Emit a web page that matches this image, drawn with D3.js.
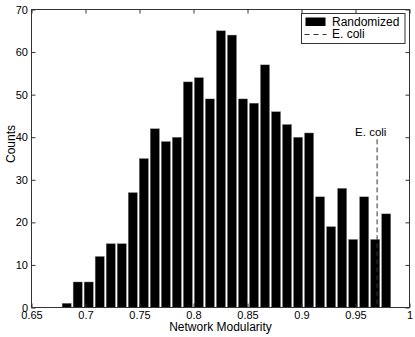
<!DOCTYPE html>
<html>
<head>
<meta charset="utf-8">
<script src="https://cdn.jsdelivr.net/npm/d3@7"></script>
<style>
  body { margin: 0; background: #fff; }
  text { font-family: "Liberation Sans", Arial, Helvetica, sans-serif; font-size: 12px; fill: #000; }
</style>
</head>
<body>
<svg id="chart"></svg>
<script>
// histogram of randomized network modularity, 30 bins
const binStart = 0.6775;
const binWidth = 0.0102;
const counts = [1, 6, 6, 12, 15, 15, 27, 35, 42, 39, 40, 53, 54, 49, 65, 64, 49, 48, 57, 46,
                43, 40, 41, 26, 19, 28, 16, 26, 16, 22];
const ecoli = 0.97;
const ecoliTop = 39.5;
const xTicks = [0.65, 0.7, 0.75, 0.8, 0.85, 0.9, 0.95, 1];
const yTicks = [0, 10, 20, 30, 40, 50, 60, 70];
const legendItems = ['Randomized', 'E. coli'];

const width = 415, height = 337;
const margin = { top: 9.5, left: 31.5, bottom: 29.5, right: 5.5 };
const iwidth = width - margin.left - margin.right;
const iheight = height - margin.top - margin.bottom;

const svg = d3.select('#chart').attr('width', width).attr('height', height);
const g = svg.append('g').attr('transform', `translate(${margin.left},${margin.top})`);

const x = d3.scaleLinear().domain([0.65, 1]).range([0, iwidth]);
const y = d3.scaleLinear().domain([0, 70]).range([iheight, 0]);

const bins = counts.map((c, i) => ({ x0: binStart + i * binWidth, x1: binStart + (i + 1) * binWidth, n: c }));

g.selectAll('rect.bar').data(bins).enter().append('rect')
  .attr('class', 'bar')
  .attr('x', d => x(d.x0) + 0.9)
  .attr('y', d => y(d.n))
  .attr('width', d => x(d.x1) - x(d.x0) - 1.8)
  .attr('height', d => y(0) - y(d.n))
  .style('fill', '#000')
  .style('stroke', '#999')
  .style('stroke-width', 0.4);

// E. coli marker
g.append('line')
  .attr('x1', x(ecoli)).attr('x2', x(ecoli))
  .attr('y1', y(ecoliTop)).attr('y2', y(0))
  .style('stroke', '#333').style('stroke-dasharray', '5,3');
g.append('text').attr('x', x(ecoli) - 22).attr('y', y(ecoliTop) - 3.5)
  .style('font-size', '11.5px').text('E. coli');

// box and inward ticks on all sides
const tl = 4;
g.append('rect').attr('width', iwidth).attr('height', iheight)
  .style('fill', 'none').style('stroke', '#333');

const axB = d3.axisBottom(x).tickValues(xTicks).tickSize(-tl).tickPadding(4).tickFormat(d3.format('~g'));
const axT = d3.axisTop(x).tickValues(xTicks).tickSize(-tl).tickFormat('');
const axL = d3.axisLeft(y).tickValues(yTicks).tickSize(-tl).tickPadding(3.5);
const axR = d3.axisRight(y).tickValues(yTicks).tickSize(-tl).tickFormat('');

g.append('g').attr('transform', `translate(0,${iheight})`).call(axB);
g.append('g').call(axT);
g.append('g').call(axL);
g.append('g').attr('transform', `translate(${iwidth},0)`).call(axR);

g.selectAll('.domain').remove();
g.selectAll('.tick line').style('stroke', '#333');
g.selectAll('.tick text').style('font-size', '11px').style('font-family', null);

// axis labels
svg.append('text').attr('x', margin.left + iwidth / 2).attr('y', 330.5)
  .attr('text-anchor', 'middle').text('Network Modularity');
svg.append('text').attr('transform', 'translate(15,144) rotate(-90)')
  .attr('text-anchor', 'middle').text('Counts');

// legend
const lg = svg.append('g').attr('transform', 'translate(301.5,13.5)');
lg.append('rect').attr('width', 103.5).attr('height', 30)
  .style('fill', '#fff').style('stroke', '#333');
lg.append('rect').attr('x', 4).attr('y', 4).attr('width', 20).attr('height', 8.5).style('fill', '#000');
lg.append('line').attr('x1', 3).attr('x2', 25).attr('y1', 21).attr('y2', 21)
  .style('stroke', '#333').style('stroke-dasharray', '5,4');
lg.selectAll('text.lt').data(legendItems).enter().append('text')
  .attr('class', 'lt')
  .attr('x', 30.5)
  .attr('y', (d, i) => 12.8 + i * 12)
  .text(d => d);
</script>
</body>
</html>
